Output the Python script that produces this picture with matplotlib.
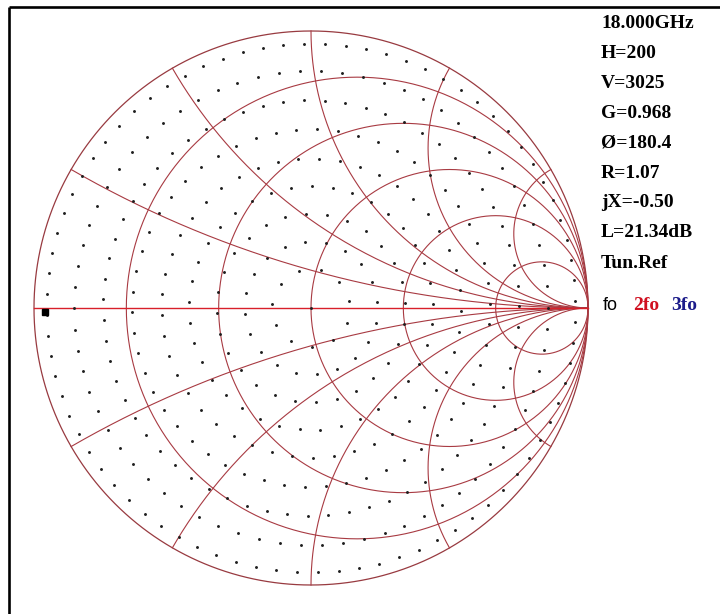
import numpy as np
import matplotlib as mpl
import matplotlib.pyplot as plt

mpl.rc('figure', facecolor='w')
mpl.rc('savefig', facecolor='w')

##### CHART DATA #####

# grid: constant resistance circles and constant reactance arcs
resistVals = [0.2, 0.5, 1.0, 2.0, 5.0]
reactVals = [0.268, 0.577, 1.0, 1.732, 3.732]

# tuner calibration points, one ring of |G| per vertical probe position
ringGamma = [0.0, 0.14, 0.24, 0.34, 0.44, 0.54, 0.645, 0.75, 0.855, 0.955]
ringCount = [1, 11, 20, 28, 37, 45, 54, 63, 70, 80]
ringPhase = [0.0, 10.0, 5.0, 3.0, 2.0, 6.8, 1.4, 0.5, 0.1, 1.5]  # deg

# current tuner position
markGamma = [-0.962, -0.013]

infoLines = ["18.000GHz", "H=200", "V=3025", "G=0.968", "\u00d8=180.4",
             "R=1.07", "jX=-0.50", "L=21.34dB", "Tun.Ref"]
harmLabels = ["fo", "2fo", "3fo"]
harmColors = ["k", "#d01020", "#1c1c8a"]

##### LAYOUT #####

W, H = 720, 614
cx, cy, rad = 311.0, 308.0, 277.0   # chart centre and radius in pixels
gridColor = "#a83a42"
axisColor = "#d8202a"

fig = plt.figure(figsize=(W / 100, H / 100), dpi=100)
ax = fig.add_axes([0, 0, 1, 1])
ax.set_xlim((0 - cx) / rad, (W - cx) / rad)
ax.set_ylim((cy - H) / rad, cy / rad)
ax.axis('off')

th = np.linspace(0, 2 * np.pi, 721)

# outer circle
ax.plot(np.cos(th), np.sin(th), color="#983a40", lw=0.9)

# resistance circles
for r in resistVals:
    c = r / (1 + r)
    rr = 1 / (1 + r)
    ax.plot(c + rr * np.cos(th), rr * np.sin(th), color=gridColor, lw=0.8)

# reactance arcs, r swept from 0 to a large value
rs = np.concatenate([np.linspace(0, 1, 200), np.logspace(0, 4, 400)])
for x in reactVals:
    for s in (1, -1):
        z = rs + 1j * s * x
        g = (z - 1) / (z + 1)
        ax.plot(g.real, g.imag, color=gridColor, lw=0.8)

# real axis
ax.plot([-1, 1], [0, 0], color=axisColor, lw=1.0)

# calibration dots
for g, n, ph in zip(ringGamma, ringCount, ringPhase):
    ang = np.deg2rad(ph + 360.0 * np.arange(n) / n)
    ax.plot(g * np.cos(ang), g * np.sin(ang), 'o', ms=2.1, color="#1e1e1e",
            mec='none')

ax.plot(markGamma[0], markGamma[1], 's', ms=4.8, color='k')

# frame (only left and top edges are visible)
x0 = 9.0 / W
y0 = 1 - 6.5 / H
ax.plot([x0, x0], [0, y0], color='k', lw=1.9, transform=ax.transAxes,
        clip_on=False, solid_capstyle='butt')
ax.plot([x0, 1], [y0, y0], color='k', lw=1.9, transform=ax.transAxes,
        clip_on=False, solid_capstyle='butt')

# readout panel
for i, s in enumerate(infoLines):
    fig.text(601 / W, 1 - (23 + 30 * i) / H, s, fontsize=14,
             family='Liberation Serif', weight='bold', va='center', ha='left')

harmX = [603, 633, 671]
for i, s in enumerate(harmLabels):
    if i == 0:
        fig.text(harmX[i] / W, 1 - 306 / H, s, fontsize=13,
                 family='Liberation Sans', color=harmColors[i], va='center')
    else:
        fig.text(harmX[i] / W, 1 - 306 / H, s, fontsize=14,
                 family='Liberation Serif', weight='bold',
                 color=harmColors[i], va='center')

fig.savefig("out.png", dpi=100)
